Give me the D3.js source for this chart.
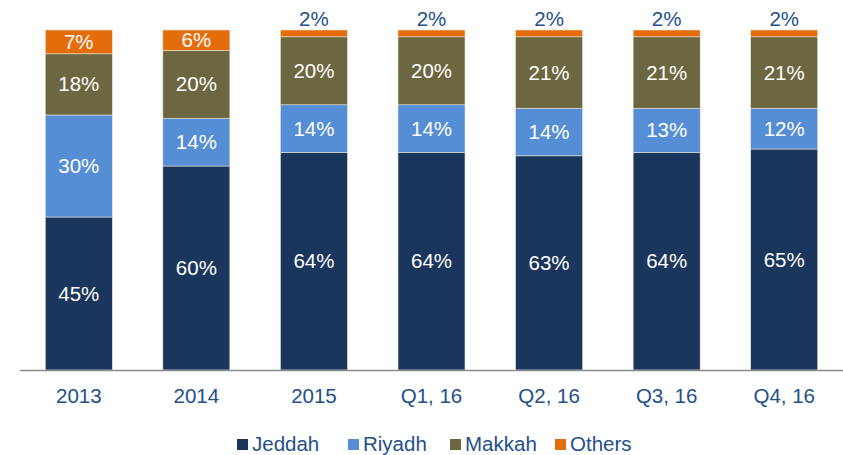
<!DOCTYPE html>
<html>
<head>
<meta charset="utf-8">
<script src="https://cdn.jsdelivr.net/npm/d3@7"></script>
<style>
  html, body { margin: 0; padding: 0; background: #fff; }
  svg { display: block; font-family: Arial, "Liberation Sans", sans-serif; }
</style>
</head>
<body>
<svg id="chart" width="843" height="455"></svg>
<script>
// Share of passenger volume by city (%)
const categories = ["2013", "2014", "2015", "Q1, 16", "Q2, 16", "Q3, 16", "Q4, 16"];
const seriesNames = ["Jeddah", "Riyadh", "Makkah", "Others"];
const jeddah = [45, 60, 64, 64, 63, 64, 65];
const riyadh = [30, 14, 14, 14, 14, 13, 12];
const makkah = [18, 20, 20, 20, 21, 21, 21];
const others = [7, 6, 2, 2, 2, 2, 2];
const colors = ["#1b365d", "#558ed5", "#6d6741", "#e46c0a"];

const rows = categories.map((c, i) => ({
  cat: c, Jeddah: jeddah[i], Riyadh: riyadh[i], Makkah: makkah[i], Others: others[i]
}));

const FONT = 20.5;
const svg = d3.select("#chart");
const baseY = 370, topY = 30;
const x = d3.scaleBand().domain(categories).range([20, 843])
  .paddingInner(0.43).paddingOuter(0.215);
const y = d3.scaleLinear().domain([0, 100]).range([baseY, topY]);
const color = d3.scaleOrdinal().domain(seriesNames).range(colors);

const stacked = d3.stack().keys(seriesNames)(rows);

const layers = svg.append("g").selectAll("g")
  .data(stacked).join("g")
  .attr("fill", d => color(d.key));

layers.selectAll("rect")
  .data(d => d)
  .join("rect")
  .attr("x", d => x(d.data.cat))
  .attr("width", x.bandwidth())
  .attr("y", d => y(d[1]))
  .attr("height", d => y(d[0]) - y(d[1]))
  .attr("stroke", "#e8e4da")
  .attr("stroke-width", 0.6);

// Value labels: inside the segment, or above the bar for thin segments
const labels = svg.append("g").attr("font-size", FONT);
stacked.forEach(layer => {
  layer.forEach(d => {
    const v = d[1] - d[0];
    const cx = x(d.data.cat) + x.bandwidth() / 2;
    const small = v < 5;
    labels.append("text")
      .attr("x", cx)
      .attr("y", small ? y(d[1]) - 4 : (y(d[0]) + y(d[1])) / 2 + 7)
      .attr("text-anchor", "middle")
      .attr("fill", small ? "#24508a" : "#ffffff")
      .text(v + "%");
  });
});

// Category axis
const axis = svg.append("g").attr("transform", `translate(0,${baseY})`)
  .call(d3.axisBottom(x).tickSize(0).tickPadding(0));
axis.select(".domain").remove();
axis.selectAll("text")
  .attr("font-size", FONT)
  .attr("font-family", "Arial, 'Liberation Sans', sans-serif")
  .attr("fill", "#24508a")
  .attr("dy", null)
  .attr("y", 33);
svg.append("line")
  .attr("x1", 20).attr("x2", 843)
  .attr("y1", baseY + 0.5).attr("y2", baseY + 0.5)
  .attr("stroke", "#8c8c8c").attr("stroke-width", 1.5);

// Legend
const legendX = [237, 348, 450, 555];
const legend = svg.append("g");
seriesNames.forEach((name, i) => {
  const g = legend.append("g").attr("transform", `translate(${legendX[i]},0)`);
  g.append("rect").attr("x", 0).attr("y", 439).attr("width", 11).attr("height", 11)
    .attr("fill", color(name));
  g.append("text").attr("x", 15).attr("y", 451)
    .attr("font-size", FONT).attr("fill", "#24508a").text(name);
});
</script>
</body>
</html>
